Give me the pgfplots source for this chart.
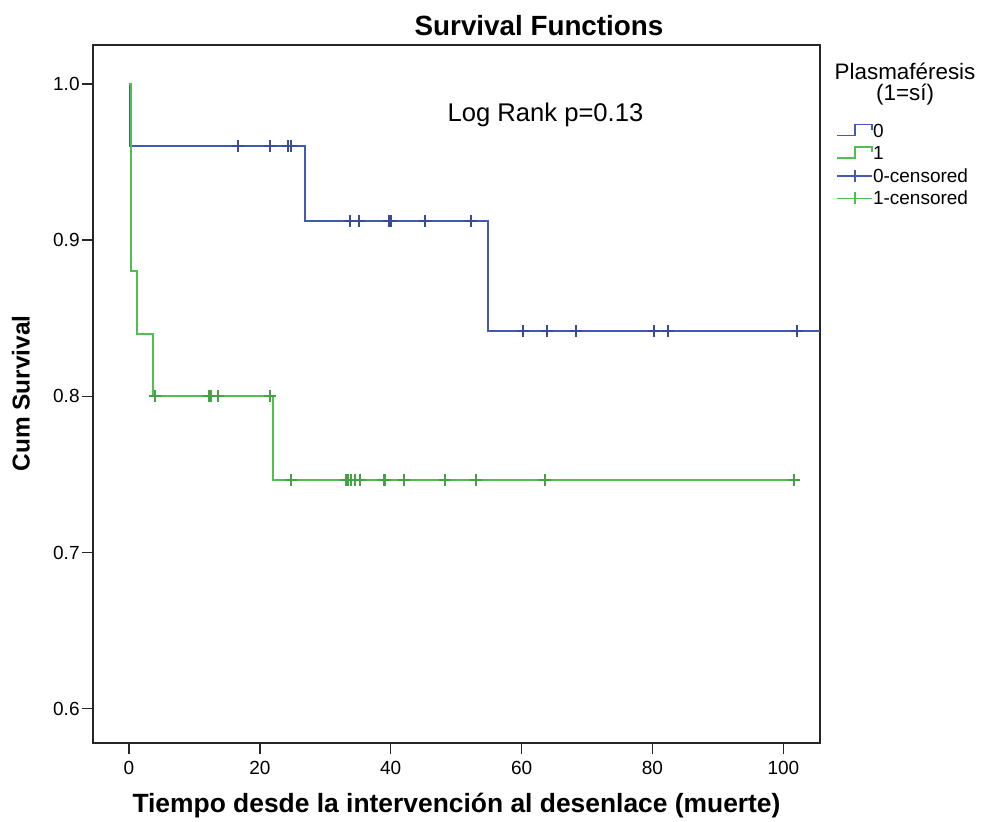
\documentclass[border=0pt]{standalone}
\usepackage{fontspec}
\setmainfont{Liberation Sans}
\usepackage{pgfplots}
\pgfplotsset{compat=1.18}
\definecolor{spssblue}{RGB}{66,90,180}
\definecolor{spssgreen}{RGB}{80,190,80}
\pgfplotsset{
  steplegend/.style={legend image code/.code={\draw[##1] (0pt,-2pt) -- (9pt,-2pt) -- (9pt,3.5pt) -- (17.5pt,3.5pt) -- (17.5pt,1pt);}},
  censlegend/.style={legend image code/.code={\draw[mark repeat=2,mark phase=2,##1] plot coordinates {(0pt,0pt) (8.75pt,0pt) (17.5pt,0pt)};}},
}
\begin{document}
\begin{tikzpicture}
\begin{axis}[
  scale only axis, width=363.5pt, height=349pt,
  xmin=-5.5, xmax=105.6, ymin=0.578, ymax=1.025,
  xtick={0,20,40,60,80,100}, ytick={0.6,0.7,0.8,0.9,1.0},
  y tick label style={inner sep=1pt, /pgf/number format/.cd, fixed, fixed zerofill, precision=1},
  /pgf/number format/assume math mode=true,
  tick align=outside, major tick length=5.5pt,
  xtick pos=lower, ytick pos=left,
  tick style={black!85, line width=0.7pt},
  tick label style={font=\fontsize{9.5}{11}\selectfont},
  axis line style={black!85, line width=0.7pt},
  xlabel={\bfseries Tiempo desde la intervención al desenlace (muerte)},
  xlabel style={at={(axis description cs:0.5,-0.0989)}, anchor=base, font=\fontsize{13.2}{15}\selectfont, inner sep=0pt},
  ylabel={\bfseries Cum Survival},
  ylabel style={at={(axis description cs:-0.099,0.501)}, anchor=center, font=\fontsize{12.2}{14}\selectfont, inner sep=0pt},
  legend style={at={(axis description cs:1.022,0.8926)}, anchor=north west, draw=none, fill=none,
     inner sep=0pt, row sep=0pt, font=\fontsize{9.5}{11}\selectfont,
     nodes={inner sep=0pt, text height=8.6pt, text depth=2.55pt}},
  legend cell align=left,
  after end axis/.code={
    \node[anchor=base, font=\fontsize{13.9}{16}\selectfont\bfseries, inner sep=0pt] at (axis description cs:0.6135,1.0143) {Survival Functions};
    \node[anchor=base, font=\fontsize{11.2}{13}\selectfont, inner sep=0pt] at (axis description cs:1.117,0.9499) {Plasmaféresis};
    \node[anchor=base, font=\fontsize{11.2}{13}\selectfont, inner sep=0pt] at (axis description cs:1.117,0.9212) {(1=sí)};
    \node[anchor=base, font=\fontsize{12.8}{15}\selectfont, inner sep=0pt] at (axis description cs:0.6224,0.8901) {Log Rank p=0.13};
  },
]
% step curves
\addplot[const plot, spssblue, line width=1pt, forget plot] coordinates {
 (0,1) (0.2,0.96) (26.9,0.912) (54.9,0.8418) (105.6,0.8418)};
\addplot[const plot, spssgreen, line width=1pt, forget plot] coordinates {
 (0,1) (0.25,0.88) (1.2,0.84) (3.7,0.80) (22.0,0.7467) (101.7,0.7467)};
% censored marks
\addplot[only marks, mark=+, mark size=3pt, spssblue!85!black, line width=1pt, forget plot] coordinates {
 (16.6,0.96) (21.6,0.96) (24.3,0.96) (24.7,0.96)
 (33.8,0.912) (35.2,0.912) (39.8,0.912) (40.1,0.912) (45.3,0.912) (52.3,0.912)
 (60.2,0.8418) (63.9,0.8418) (68.3,0.8418) (80.3,0.8418) (82.4,0.8418) (102.1,0.8418)};
\addplot[only marks, mark=+, mark size=3pt, spssgreen!85!black, line width=1pt, forget plot] coordinates {
 (3.9,0.80) (12.3,0.80) (12.6,0.80) (13.6,0.80) (21.6,0.80)
 (24.7,0.7467) (33.2,0.7467) (33.5,0.7467) (34.0,0.7467) (34.6,0.7467) (35.3,0.7467)
 (38.9,0.7467) (39.1,0.7467) (42.0,0.7467) (48.3,0.7467) (53.0,0.7467) (63.5,0.7467) (101.6,0.7467)};
% legend
\addlegendimage{spssblue, line width=0.8pt, steplegend}
\addlegendentry{0}
\addlegendimage{spssgreen, line width=0.8pt, steplegend}
\addlegendentry{1}
\addlegendimage{spssblue, line width=0.8pt, mark=+, mark size=3pt, censlegend}
\addlegendentry{0-censored}
\addlegendimage{spssgreen, line width=0.8pt, mark=+, mark size=3pt, censlegend}
\addlegendentry{1-censored}
\end{axis}
\pgfresetboundingbox
\useasboundingbox ([shift={(-46.5pt,-39pt)}]current axis.south west) rectangle ([shift={(81.5pt,22.5pt)}]current axis.north east);
\end{tikzpicture}
\end{document}
